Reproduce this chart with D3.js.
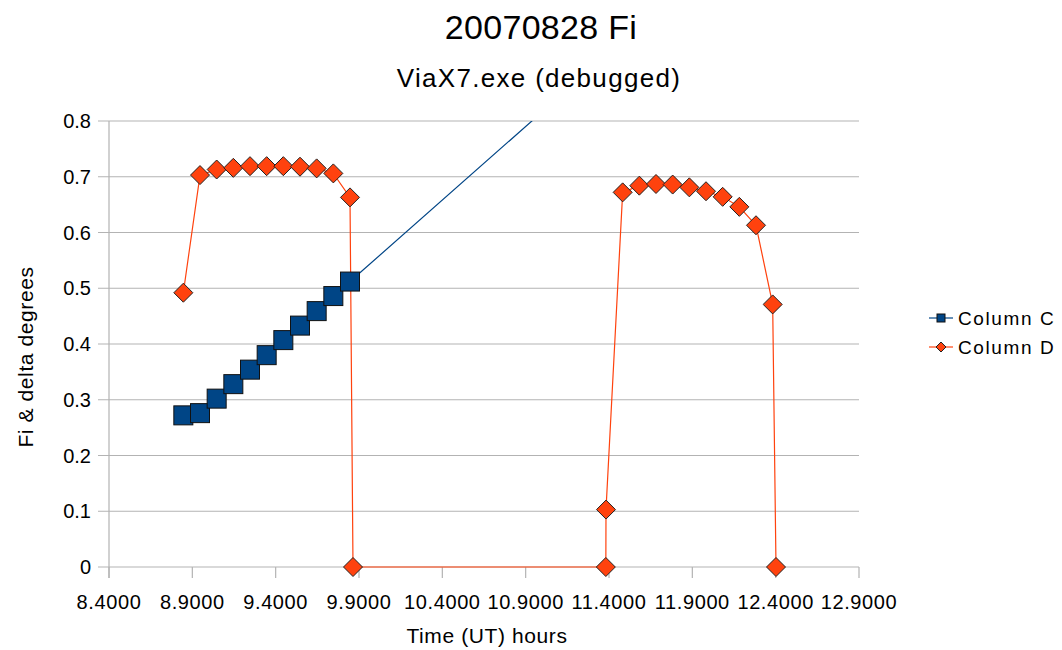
<!DOCTYPE html>
<html>
<head>
<meta charset="utf-8">
<script src="https://cdn.jsdelivr.net/npm/d3@7"></script>
<style>
  body { margin: 0; background: white; }
  svg { display: block; font-family: 'Liberation Sans', Arial, sans-serif; }
</style>
</head>
<body>
<script>
const width = 1062;
const height = 650;
const margin = { top: 121, right: 203, bottom: 83, left: 109 };

// Column C: time (UT hours) and value
const timeC = [8.846, 8.946, 9.046, 9.146, 9.246, 9.346, 9.446, 9.546, 9.646, 9.746, 9.846, 12.4];
const valueC = [0.272, 0.276, 0.302, 0.328, 0.354, 0.380, 0.407, 0.433, 0.459, 0.486, 0.512, 1.186];

// Column D
const timeD = [8.846, 8.946, 9.046, 9.146, 9.246, 9.346, 9.446, 9.546, 9.646, 9.746, 9.846, 9.864,
  11.381, 11.382, 11.482, 11.582, 11.682, 11.782, 11.882, 11.982, 12.082, 12.182, 12.282, 12.382, 12.402];
const valueD = [0.492, 0.703, 0.713, 0.716, 0.719, 0.719, 0.719, 0.718, 0.715, 0.706, 0.663, 0,
  0, 0.103, 0.672, 0.684, 0.687, 0.686, 0.681, 0.674, 0.664, 0.646, 0.613, 0.471, 0];

const xTicks = [8.4, 8.9, 9.4, 9.9, 10.4, 10.9, 11.4, 11.9, 12.4, 12.9];
const yTicks = [0, 0.1, 0.2, 0.3, 0.4, 0.5, 0.6, 0.7, 0.8];
const seriesNames = ['Column C', 'Column D'];

const blue = '#004586';
const red = '#ff420e';
const grid = '#b3b3b3';

const svg = d3.select('body').append('svg')
  .attr('width', width)
  .attr('height', height);

const x = d3.scaleLinear()
  .domain([8.4, 12.9])
  .range([margin.left, width - margin.right]);

const y = d3.scaleLinear()
  .domain([0, 0.8])
  .range([height - margin.bottom, margin.top]);

// titles
svg.append('text')
  .attr('x', 541).attr('y', 39)
  .attr('text-anchor', 'middle')
  .attr('font-size', 34)
  .attr('letter-spacing', 0.3)
  .text('20070828 Fi');

svg.append('text')
  .attr('x', 539).attr('y', 87)
  .attr('text-anchor', 'middle')
  .attr('font-size', 26)
  .attr('letter-spacing', 1.3)
  .text('ViaX7.exe (debugged)');

// gridlines + y ticks
svg.append('g')
  .selectAll('line')
  .data(yTicks)
  .join('line')
  .attr('x1', margin.left - 11)
  .attr('x2', width - margin.right)
  .attr('y1', d => y(d))
  .attr('y2', d => y(d))
  .attr('stroke', grid)
  .attr('stroke-width', 1.2);

svg.append('g')
  .attr('font-size', 20)
  .attr('text-anchor', 'end')
  .selectAll('text')
  .data(yTicks)
  .join('text')
  .attr('x', margin.left - 18)
  .attr('y', d => y(d) + 7)
  .text(d => d === 0 ? '0' : d3.format('.1f')(d));

// y axis line, x ticks
svg.append('line')
  .attr('x1', margin.left).attr('x2', margin.left)
  .attr('y1', margin.top).attr('y2', height - margin.bottom + 11)
  .attr('stroke', grid)
  .attr('stroke-width', 1.2);

svg.append('g')
  .selectAll('line')
  .data(xTicks)
  .join('line')
  .attr('x1', d => x(d))
  .attr('x2', d => x(d))
  .attr('y1', height - margin.bottom)
  .attr('y2', height - margin.bottom + 11)
  .attr('stroke', grid)
  .attr('stroke-width', 1.2);

svg.append('g')
  .attr('font-size', 20)
  .attr('letter-spacing', 0.6)
  .attr('text-anchor', 'middle')
  .selectAll('text')
  .data(xTicks)
  .join('text')
  .attr('x', d => x(d))
  .attr('y', 609)
  .text(d => d3.format('.4f')(d));

// axis titles
svg.append('text')
  .attr('x', 487).attr('y', 643)
  .attr('text-anchor', 'middle')
  .attr('font-size', 21)
  .attr('letter-spacing', 0.6)
  .text('Time (UT) hours');

svg.append('text')
  .attr('transform', 'translate(33,357) rotate(-90)')
  .attr('text-anchor', 'middle')
  .attr('font-size', 21)
  .attr('letter-spacing', 0.6)
  .text('Fi & delta degrees');

// clip to plot area
svg.append('clipPath')
  .attr('id', 'plot-clip')
  .append('rect')
  .attr('x', margin.left - 12)
  .attr('y', margin.top)
  .attr('width', width - margin.right - margin.left + 24)
  .attr('height', height - margin.bottom - margin.top + 12);

const plot = svg.append('g')
  .attr('clip-path', 'url(#plot-clip)');

const dataC = timeC.map((t, i) => ({ t, v: valueC[i] }));
const dataD = timeD.map((t, i) => ({ t, v: valueD[i] }));

const line = d3.line()
  .x(d => x(d.t))
  .y(d => y(d.v));

plot.append('path')
  .datum(dataC)
  .attr('fill', 'none')
  .attr('stroke', blue)
  .attr('stroke-width', 1.2)
  .attr('d', line);

plot.append('path')
  .datum(dataD)
  .attr('fill', 'none')
  .attr('stroke', red)
  .attr('stroke-width', 1.2)
  .attr('d', line);

const diamond = s => `M0,${-s}L${s},0L0,${s}L${-s},0Z`;

plot.append('g')
  .selectAll('path')
  .data(dataD)
  .join('path')
  .attr('transform', d => `translate(${x(d.t)},${y(d.v)})`)
  .attr('d', diamond(9.5))
  .attr('fill', red)
  .attr('stroke', '#222')
  .attr('stroke-width', 1);

plot.append('g')
  .selectAll('rect')
  .data(dataC)
  .join('rect')
  .attr('x', d => x(d.t) - 9.5)
  .attr('y', d => y(d.v) - 9.5)
  .attr('width', 19)
  .attr('height', 19)
  .attr('fill', blue)
  .attr('stroke', '#111')
  .attr('stroke-width', 1);

// legend
const legend = svg.append('g')
  .selectAll('g')
  .data(seriesNames)
  .join('g')
  .attr('transform', (d, i) => `translate(929,${318 + i * 29})`);

legend.append('line')
  .attr('x1', 0).attr('x2', 24)
  .attr('stroke', (d, i) => i === 0 ? blue : red)
  .attr('stroke-width', 1.2);

legend.each(function (d, i) {
  const g = d3.select(this);
  if (i === 0) {
    g.append('rect')
      .attr('x', 8).attr('y', -4)
      .attr('width', 8).attr('height', 8)
      .attr('fill', blue).attr('stroke', '#111');
  } else {
    g.append('path')
      .attr('transform', 'translate(12,0)')
      .attr('d', diamond(5))
      .attr('fill', red).attr('stroke', '#222');
  }
});

legend.append('text')
  .attr('x', 29)
  .attr('y', 7)
  .attr('font-size', 19)
  .attr('letter-spacing', 1.6)
  .text(d => d);
</script>
</body>
</html>
